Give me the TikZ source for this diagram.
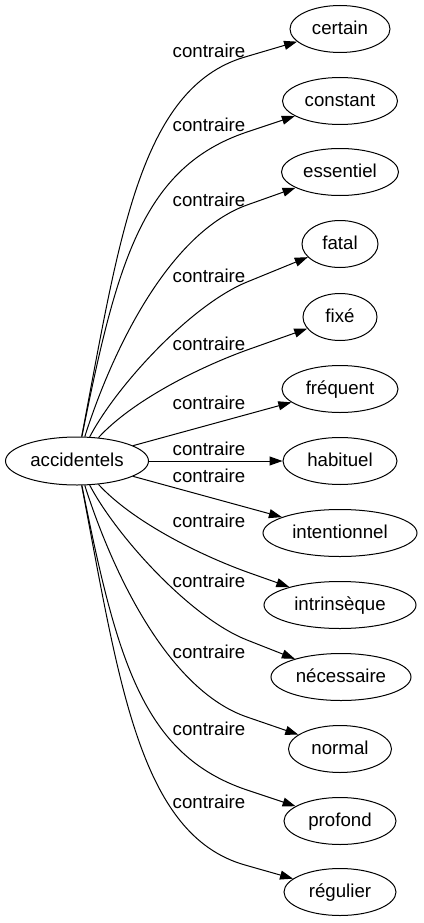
\documentclass[tikz,border=0pt]{standalone}
\usepackage{fontspec}
\setmainfont{Liberation Sans}
\usetikzlibrary{arrows.meta,shapes.geometric}
\begin{document}
\begin{tikzpicture}[x=1pt,y=-1pt,
  every node/.style={font=\fontsize{18.67}{22}\selectfont, text height=13.5pt, text depth=2pt, inner sep=0pt},
  word/.style={draw, line width=1pt, ellipse, minimum height=47pt},
  lab/.style={},
  edge/.style={draw, line width=1pt, -{Triangle[length=13pt,width=9pt]}}]
\useasboundingbox (0,0) rectangle (423,923);
% nodes
\node[word, minimum width=143pt, minimum height=48pt] (acc) at (77,461) {accidentels};
\node[word, minimum width=100pt] (certain) at (340,29) {certain};
\node[word, minimum width=115pt] (constant) at (340,101) {constant};
\node[word, minimum width=117pt] (essentiel) at (340,172) {essentiel};
\node[word, minimum width=76pt] (fatal) at (340,244) {fatal};
\node[word, minimum width=74pt] (fixe) at (340,317) {fixé};
\node[word, minimum width=116pt] (frequent) at (340,389) {fréquent};
\node[word, minimum width=114pt] (habituel) at (340,461) {habituel};
\node[word, minimum width=154pt] (intentionnel) at (340,533) {intentionnel};
\node[word, minimum width=152pt] (intrinseque) at (340,605) {intrinsèque};
\node[word, minimum width=140pt] (necessaire) at (341,677) {nécessaire};
\node[word, minimum width=103pt] (normal) at (340,749) {normal};
\node[word, minimum width=112pt] (profond) at (340,821) {profond};
\node[word, minimum width=112pt] (regulier) at (340,892) {régulier};
% waypoints
\coordinate (w1) at (245,57);
\coordinate (w2) at (247,132);
\coordinate (w3) at (247,205);
\coordinate (w4) at (247,282);
\coordinate (w5) at (247,350);
\coordinate (w9) at (247,572);
\coordinate (w10) at (247,640);
\coordinate (w11) at (247,717);
\coordinate (w12) at (247,790);
\coordinate (w13) at (245,865);
% edges
\path[edge] (acc) .. controls (119,241) and (139,88) .. (w1) -- (certain);
\path[edge] (acc) .. controls (117,261) and (143,167) .. (w2) -- (constant);
\path[edge] (acc) .. controls (115,342) and (172,232) .. (w3) -- (essentiel);
\path[edge] (acc) .. controls (117,385) and (191,305) .. (w4) -- (fatal);
\path[edge] (acc) .. controls (133,400) and (200,367) .. (w5) -- (fixe);
\path[edge] (acc) -- (frequent);
\path[edge] (acc) -- (habituel);
\path[edge] (acc) -- (intentionnel);
\path[edge] (acc) .. controls (133,522) and (200,555) .. (w9) -- (intrinseque);
\path[edge] (acc) .. controls (117,537) and (191,618) .. (w10) -- (necessaire);
\path[edge] (acc) .. controls (115,580) and (171,691) .. (w11) -- (normal);
\path[edge] (acc) .. controls (117,661) and (143,755) .. (w12) -- (profond);
\path[edge] (acc) .. controls (119,681) and (139,835) .. (w13) -- (regulier);
% labels
\node[lab] (l1) at (209,52) {contraire};
\node[lab] (l2) at (209,126) {contraire};
\node[lab] (l3) at (209,201) {contraire};
\node[lab] (l4) at (209,277) {contraire};
\node[lab] (l5) at (209,345) {contraire};
\node[lab] (l6) at (209,404) {contraire};
\node[lab] (l7) at (209,450) {contraire};
\node[lab] (l8) at (209,477) {contraire};
\node[lab] (l9) at (209,522) {contraire};
\node[lab] (l10) at (209,582) {contraire};
\node[lab] (l11) at (209,653) {contraire};
\node[lab] (l12) at (209,730) {contraire};
\node[lab] (l13) at (209,803) {contraire};
\end{tikzpicture}
\end{document}
